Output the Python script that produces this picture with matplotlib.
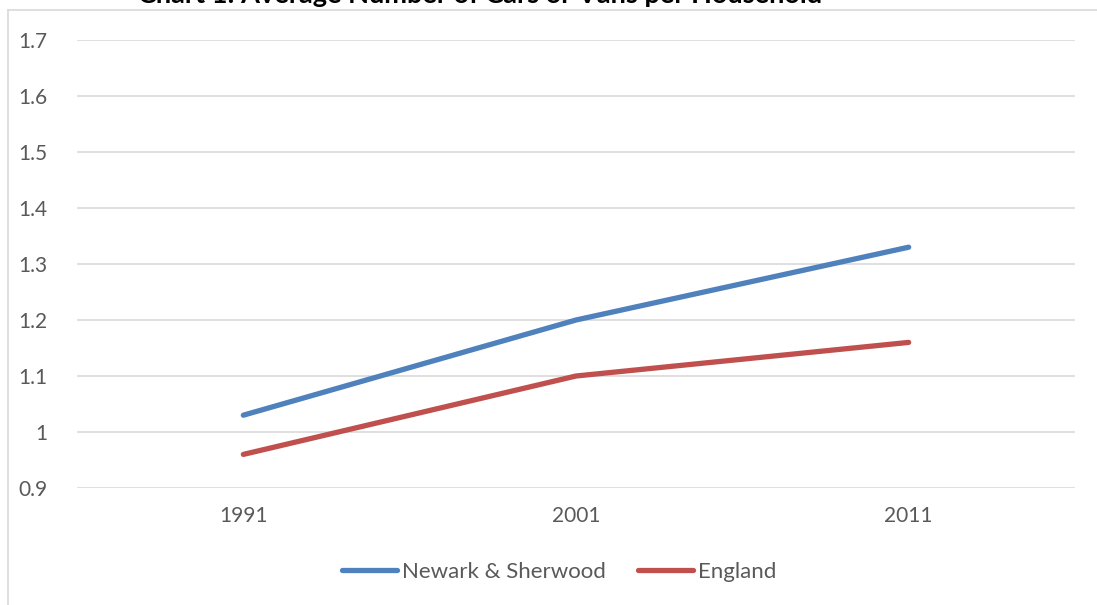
import matplotlib.pyplot as plt
from matplotlib.lines import Line2D

years = ['1991', '2001', '2011']
newark = [1.03, 1.20, 1.33]
england = [0.96, 1.10, 1.16]
yticks = [0.9, 1, 1.1, 1.2, 1.3, 1.4, 1.5, 1.6, 1.7]
ytick_labels = ['0.9', '1', '1.1', '1.2', '1.3', '1.4', '1.5', '1.6', '1.7']

plt.rcParams['font.family'] = ['Lato', 'DejaVu Sans']

W, H = 1097, 605
fig = plt.figure(figsize=(W / 100, H / 100), dpi=100)
ax = fig.add_axes([77 / W, 1 - 488 / H, (1075 - 77) / W, (488 - 40) / H])

x = range(len(years))
ax.plot(x, newark, color='#4F81BD', lw=3.8, solid_capstyle='round', label='Newark & Sherwood')
ax.plot(x, england, color='#C0504D', lw=3.8, solid_capstyle='round', label='England')

ax.set_xlim(-0.5, 2.5)
ax.set_ylim(0.9, 1.7)
ax.set_yticks(yticks)
ax.set_yticklabels(ytick_labels)
ax.set_xticks(list(x))
ax.set_xticklabels(years)
ax.yaxis.grid(True, color='#D9D9D9', lw=1.2)
ax.set_axisbelow(True)
for s in ax.spines.values():
    s.set_visible(False)
ax.tick_params(length=0, labelsize=15, colors='#595959')
ax.tick_params(axis='y', pad=21)
ax.tick_params(axis='x', pad=13)

# outer chart frame
fig.add_artist(Line2D([8 / W, 8 / W], [0, 1 - 10 / H], color='#D9D9D9', lw=1.2))
fig.add_artist(Line2D([8 / W, 1], [1 - 10 / H, 1 - 10 / H], color='#D9D9D9', lw=1.2))

fig.text(480 / W, 1 - 3 / H, 'Chart 1: Average Number of Cars or Vans per Household',
         ha='center', va='baseline', fontsize=19.5, fontweight='bold', color='black')

fig.legend(loc='center', bbox_to_anchor=(559 / W, 1 - 572 / H), ncol=2, frameon=False,
           fontsize=16, labelcolor='#595959', handlelength=2.5, handletextpad=0.2,
           columnspacing=1.45)

fig.savefig('out.png', dpi=100)
